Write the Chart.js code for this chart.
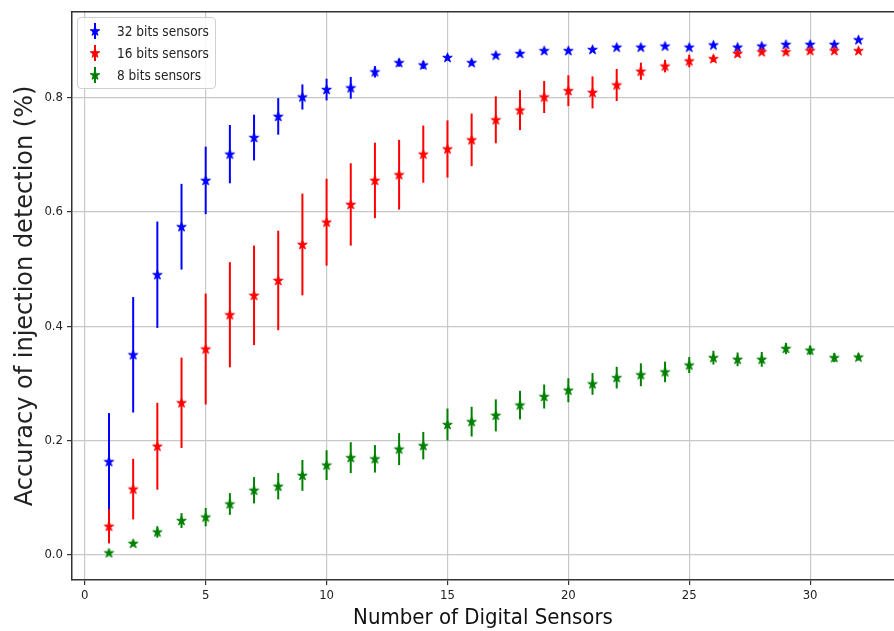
<!DOCTYPE html>
<html>
<head>
<meta charset="utf-8">
<script src="https://cdn.jsdelivr.net/npm/chart.js@4.4.1/dist/chart.umd.min.js"></script>
<style>
  html, body { margin: 0; padding: 0; background: #fff; overflow: hidden; }
  #wrap { position: relative; width: 894px; height: 631px; }
  #legend {
    position: absolute; left: 77px; top: 17px; width: 137px;
    padding: 2px 0; border: 1px solid #d0d0d0; border-radius: 4px;
    background: rgba(255,255,255,0.85);
    font-family: 'DejaVu Sans Condensed', 'DejaVu Sans', sans-serif;
    font-size: 13.5px; color: #222;
  }
  .row { display: flex; align-items: center; height: 22px; }
  .row canvas { margin-left: 11px; margin-right: 16px; }
</style>
</head>
<body>
<div id="wrap">
  <canvas id="accChart" width="894" height="631"></canvas>
  <div id="legend"></div>
</div>
<script>
// number of sensors on the x axis
const sensors = [1, 2, 3, 4, 5, 6, 7, 8, 9, 10, 11, 12, 13, 14, 15, 16,
                 17, 18, 19, 20, 21, 22, 23, 24, 25, 26, 27, 28, 29, 30, 31, 32];

const acc32 = [0.163, 0.350, 0.490, 0.574, 0.655, 0.701, 0.730, 0.767, 0.801, 0.814, 0.817,
               0.845, 0.861, 0.857, 0.870, 0.861, 0.874, 0.877, 0.882, 0.882, 0.884, 0.888,
               0.888, 0.890, 0.888, 0.892, 0.888, 0.890, 0.893, 0.893, 0.893, 0.901];
const err32 = [0.085, 0.101, 0.093, 0.075, 0.059, 0.051, 0.040, 0.032, 0.022, 0.019, 0.019,
               0.010, 0.007, 0.007, 0.005, 0.005, 0.004, 0.004, 0.004, 0.004, 0.004, 0.003,
               0.003, 0.003, 0.003, 0.003, 0.003, 0.003, 0.003, 0.003, 0.003, 0.003];

const acc16 = [0.050, 0.115, 0.190, 0.266, 0.360, 0.420, 0.454, 0.480, 0.543, 0.582, 0.613,
               0.655, 0.665, 0.701, 0.710, 0.726, 0.761, 0.778, 0.801, 0.812, 0.809, 0.822,
               0.846, 0.855, 0.864, 0.868, 0.877, 0.880, 0.880, 0.882, 0.882, 0.882];
const err16 = [0.030, 0.053, 0.076, 0.079, 0.097, 0.092, 0.087, 0.087, 0.089, 0.076, 0.072,
               0.066, 0.061, 0.050, 0.050, 0.046, 0.041, 0.035, 0.028, 0.027, 0.028, 0.028,
               0.015, 0.011, 0.011, 0.006, 0.005, 0.004, 0.004, 0.004, 0.003, 0.003];

const acc8 = [0.0035, 0.020, 0.040, 0.060, 0.066, 0.089, 0.113, 0.120, 0.139, 0.157, 0.170,
              0.168, 0.185, 0.191, 0.228, 0.233, 0.244, 0.262, 0.277, 0.288, 0.299, 0.310,
              0.315, 0.320, 0.332, 0.345, 0.342, 0.342, 0.361, 0.358, 0.345, 0.346];
const err8 = [0.003, 0.004, 0.010, 0.013, 0.016, 0.019, 0.023, 0.023, 0.027, 0.026, 0.027,
              0.024, 0.028, 0.024, 0.028, 0.026, 0.028, 0.025, 0.021, 0.021, 0.019, 0.019,
              0.020, 0.018, 0.014, 0.012, 0.012, 0.013, 0.010, 0.008, 0.008, 0.006];

const xTicks = [0, 5, 10, 15, 20, 25, 30];
const yTicks = [0.0, 0.2, 0.4, 0.6, 0.8];

// filled five point star like matplotlib '*'
function drawStar(c, cx, cy, r, color) {
    c.beginPath();
    for (let k = 0; k < 10; k++) {
        const rad = k % 2 === 0 ? r : r * 0.382;
        const a = -Math.PI / 2 + k * Math.PI / 5;
        const px = cx + rad * Math.cos(a), py = cy + rad * Math.sin(a);
        if (k === 0) c.moveTo(px, py); else c.lineTo(px, py);
    }
    c.closePath();
    c.fillStyle = color;
    c.fill();
    c.lineWidth = 1;
    c.strokeStyle = color;
    c.stroke();
}

function starMarker(color) {
    const cv = document.createElement('canvas');
    cv.width = 13; cv.height = 13;
    drawStar(cv.getContext('2d'), 6.5, 6.8, 5, color);
    return cv;
}

const series = [
    { label: '32 bits sensors', values: acc32, errors: err32, color: '#0000ff', order: 3 },
    { label: '16 bits sensors', values: acc16, errors: err16, color: '#ff0000', order: 2 },
    { label: '8 bits sensors', values: acc8, errors: err8, color: '#008000', order: 1 }
];

const datasets = series.map(s => ({
    label: s.label,
    data: sensors.map((n, i) => ({ x: n, y: s.values[i] })),
    errors: s.errors,
    barColor: s.color,
    order: s.order,
    pointStyle: starMarker(s.color),
    pointRadius: 6,
    showLine: false
}));

// vertical error bars, drawn just before each dataset's markers
const errorBars = {
    id: 'errorBars',
    beforeDatasetDraw(chart, args) {
        const ds = chart.data.datasets[args.index];
        const xs = chart.scales.x, ys = chart.scales.y;
        const c = chart.ctx;
        c.save();
        c.strokeStyle = ds.barColor;
        c.lineWidth = 2;
        ds.data.forEach((p, i) => {
            const e = ds.errors[i];
            const px = xs.getPixelForValue(p.x);
            c.beginPath();
            c.moveTo(px, ys.getPixelForValue(p.y - e));
            c.lineTo(px, ys.getPixelForValue(p.y + e));
            c.stroke();
        });
        c.restore();
    }
};

const topSpine = {
    id: 'topSpine',
    afterDraw(chart) {
        const a = chart.chartArea, c = chart.ctx;
        c.save();
        c.strokeStyle = '#333';
        c.lineWidth = 1.5;
        c.beginPath();
        c.moveTo(a.left, a.top);
        c.lineTo(a.right, a.top);
        c.stroke();
        c.restore();
    }
};

Chart.defaults.font.family = "'DejaVu Sans Condensed', 'DejaVu Sans', sans-serif";

const ctx = document.getElementById('accChart').getContext('2d');
new Chart(ctx, {
    type: 'scatter',
    data: { datasets: datasets },
    options: {
        responsive: false,
        animation: false,
        layout: { autoPadding: false, padding: { top: 9, left: 0, right: 0, bottom: 0 } },
        plugins: { legend: { display: false }, tooltip: { enabled: false } },
        scales: {
            x: {
                type: 'linear',
                min: -0.53,
                max: 33.47,
                afterBuildTicks: s => { s.ticks = xTicks.map(v => ({ value: v })); },
                afterFit: s => { s.height = 51; },
                grid: { color: '#c8c8c8', lineWidth: 1.2, tickLength: 5, tickColor: '#333' },
                border: { color: '#333', width: 1.5 },
                ticks: { font: { size: 13 }, color: '#222', padding: 3, maxRotation: 0,
                         callback: v => String(v) },
                title: { display: true, text: 'Number of Digital Sensors', color: '#111',
                         font: { size: 22 }, padding: { top: 0, bottom: 0 } }
            },
            y: {
                type: 'linear',
                min: -0.044,
                max: 0.95,
                afterBuildTicks: s => { s.ticks = yTicks.map(v => ({ value: v })); },
                afterFit: s => { s.width = 72; },
                grid: { color: '#c8c8c8', lineWidth: 1.2, tickLength: 5, tickColor: '#333' },
                border: { color: '#333', width: 1.5 },
                ticks: { font: { size: 13 }, color: '#222', padding: 4,
                         callback: v => v.toFixed(1) },
                title: { display: true, text: 'Accuracy of injection detection (%)', color: '#222',
                         font: { family: "'DejaVu Sans', sans-serif", size: 24 },
                         padding: { top: 11, bottom: 0 } }
            }
        }
    },
    plugins: [errorBars, topSpine]
});

// legend box in the upper left corner
const legend = document.getElementById('legend');
series.forEach(s => {
    const row = document.createElement('div');
    row.className = 'row';
    const cv = document.createElement('canvas');
    cv.width = 12; cv.height = 18;
    const c = cv.getContext('2d');
    c.strokeStyle = s.color;
    c.lineWidth = 2;
    c.beginPath(); c.moveTo(6, 1); c.lineTo(6, 17); c.stroke();
    drawStar(c, 6, 9.3, 5, s.color);
    const txt = document.createElement('span');
    txt.textContent = s.label;
    row.appendChild(cv);
    row.appendChild(txt);
    legend.appendChild(row);
});
</script>
</body>
</html>
